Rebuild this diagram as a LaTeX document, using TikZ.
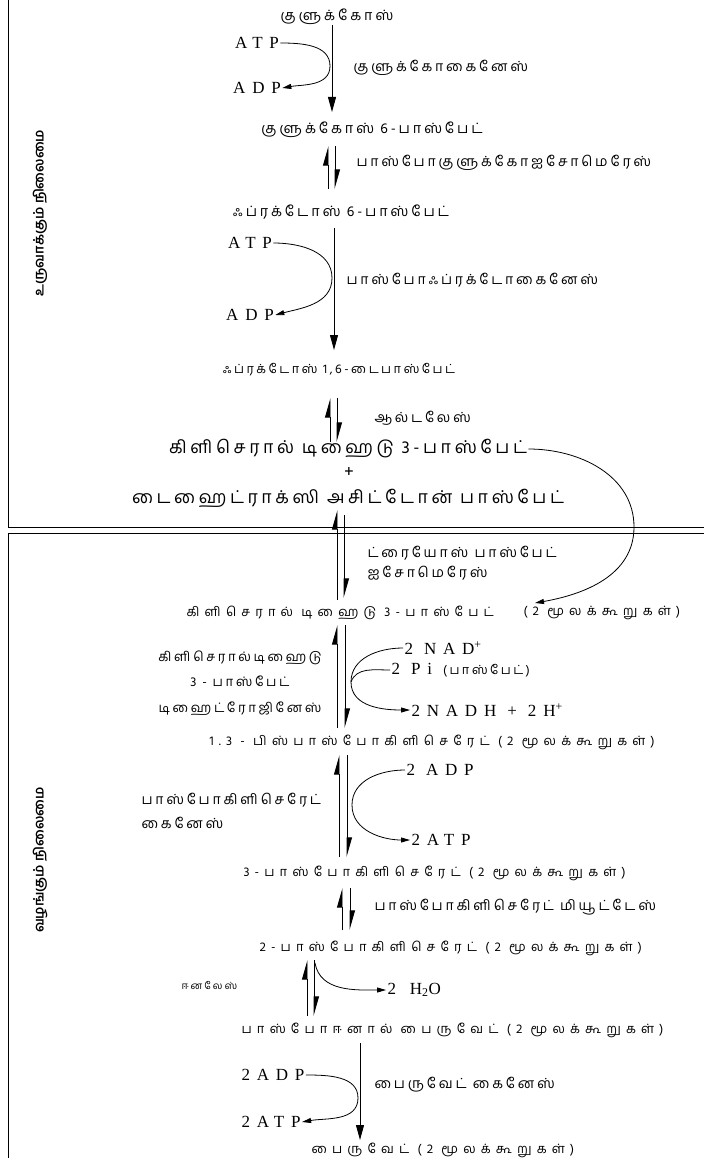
\documentclass[tikz,border=0pt]{standalone}
\usepackage{fontspec}
\setmainfont{Liberation Serif}
\newfontfamily\ta[Script=Tamil,LetterSpace=20]{Hind Madurai}
\newfontfamily\tw[Script=Tamil,LetterSpace=40]{Hind Madurai}
\newfontfamily\tab[Script=Tamil]{Hind Madurai}
\newfontfamily\lat[LetterSpace=40]{Liberation Serif}
\usetikzlibrary{arrows.meta}
\tikzset{
 every node/.style={inner sep=0pt,outer sep=1.5pt},
 cmp/.style={font=\ta\fontsize{14.3}{16}\selectfont},
 cmpl/.style={font=\ta\fontsize{17.7}{19}\selectfont},
 cmps/.style={font=\tw\fontsize{12.9}{14}\selectfont},
 enz/.style={font=\ta\fontsize{14}{16}\selectfont},
 lbl/.style={font=\ta\fontsize{13.1}{25.5}\selectfont,align=center},
 lt/.style={font=\lat\fontsize{17}{19}\selectfont},
 sidelbl/.style={font=\tab\bfseries\fontsize{13.5}{15}\selectfont,rotate=90},
 rxn/.style={line width=0.9pt,-{Triangle[length=15pt,width=8pt]}},
 hp/.style={line width=0.9pt,-{Triangle[harpoon,length=18pt,width=10pt]}},
 side/.style={line width=0.8pt,-{Triangle[length=9pt,width=5pt]}},
 frame/.style={line width=0.8pt}
}
\begin{document}
\begin{tikzpicture}[x=1pt,y=-1pt]
\useasboundingbox (0,0) rectangle (704,1158);
% frames
\draw[frame] (8,0) -- (8,527) -- (704,527);
\draw[frame] (704,533) -- (8,533) -- (8,1158);
\node[sidelbl] (s1) at (40,213) {உருவாக்கும் நிலைமை};
\node[sidelbl] (s2) at (40,860) {வழங்கும் நிலைமை};
% step 1
\node[cmp] (glc) at (337,17) {குளுக்கோஸ்};
\node[lt] (atp1) at (257,43) {ATP};
\node[lt] (adp1) at (257,88) {ADP};
\node[enz,anchor=west] (hk) at (352,68) {குளுக்கோகைனேஸ்};
\node[cmp] (g6p) at (372,130) {குளுக்கோஸ் 6-பாஸ்பேட்};
\coordinate (a1s) at (332,25); \coordinate (a1e) at (332,112);
\draw[rxn] (a1s) -- (a1e);
\coordinate (t1) at (330,66);
\draw[side] (atp1.east) to[out=0,in=90] (t1) to[out=-90,in=10] (adp1.east);
% step 2
\node[enz,anchor=west] (pgi) at (355,163) {பாஸ்போகுளுக்கோஐசோமெரேஸ்};
\node[cmp] (f6p) at (341,212) {ஃப்ரக்டோஸ் 6-பாஸ்பேட்};
\coordinate (e1a) at (328,189); \coordinate (e1b) at (328,146);
\coordinate (e1c) at (335,146); \coordinate (e1d) at (335,189);
\draw[hp] (e1a) -- (e1b); \draw[hp] (e1c) -- (e1d);
% step 3
\node[lt] (atp2) at (250,243) {ATP};
\node[lt] (adp2) at (250,315) {ADP};
\node[enz,anchor=west] (pfk) at (345,280) {பாஸ்போஃப்ரக்டோகைனேஸ்};
\node[font=\ta\fontsize{12.6}{14}\selectfont] (f16) at (339,370) {ஃப்ரக்டோஸ் 1,6-டைபாஸ்பேட்};
\coordinate (a2s) at (334,228); \coordinate (a2e) at (334,350);
\draw[rxn] (a2s) -- (a2e);
\coordinate (t2) at (332,278);
\draw[side] (atp2.east) to[out=0,in=90] (t2) to[out=-90,in=15] (adp2.east);
% step 4
\node[enz,anchor=west] (ald) at (373,418) {ஆல்டலேஸ்};
\coordinate (e2a) at (330,442); \coordinate (e2b) at (330,398);
\coordinate (e2c) at (337,398); \coordinate (e2d) at (337,442);
\draw[hp] (e2a) -- (e2b); \draw[hp] (e2c) -- (e2d);
\node[cmpl] (gapT) at (348,449) {கிளிசெரால் டிஹைடு 3-பாஸ்பேட்};
\node[cmpl] (plus) at (349,472) {+};
\node[cmpl] (dhap) at (348,498) {டைஹைட்ராக்ஸி அசிட்டோன் பாஸ்பேட்};
% step 5
\node[enz,anchor=west] (tpi1) at (366,553) {ட்ரையோஸ் பாஸ்பேட்};
\node[enz,anchor=west] (tpi2) at (366,573) {ஐசோமெரேஸ்};
\coordinate (e3a) at (337,600); \coordinate (e3b) at (337,510);
\coordinate (e3c) at (344,515); \coordinate (e3d) at (344,598);
\draw[hp] (e3a) -- (e3b); \draw[hp] (e3c) -- (e3d);
\node[cmps,anchor=west] (gap2) at (185,613) {கிளிசெரால் டிஹைடு 3-பாஸ்பேட்};
\node[cmps,anchor=west] (gap2m) at (522,613) {(2 மூலக்கூறுகள்)};
\coordinate (t3) at (634,527); \coordinate (c3e) at (535,603);
\draw[side] (gapT.east) to[out=0,in=90] (t3) to[out=-90,in=10] (c3e);
% step 6
\node[lbl] (gapdh) at (240,683) {கிளிசெரால்டிஹைடு\\3 - பாஸ்பேட்\\டிஹைட்ரோஜினேஸ்};
\coordinate (e4a) at (337,728); \coordinate (e4b) at (337,625);
\coordinate (e4c) at (345,625); \coordinate (e4d) at (345,728);
\draw[hp] (e4a) -- (e4b); \draw[hp] (e4c) -- (e4d);
\node[lt,anchor=west] (nad) at (403,648) {2 NAD\textsuperscript{+}};
\node[lt,anchor=west] (pi) at (390,670) {2 Pi {\ta\fontsize{12.6}{14}\selectfont(பாஸ்பேட்)}};
\node[lt,anchor=west] (nadh) at (410,710) {2NADH + 2H\textsuperscript{+}};
\coordinate (t4) at (351,682);
\draw[side] (nad.west) to[out=180,in=90] (t4) to[out=-90,in=180] (nadh.west);
\draw[line width=0.8pt] (pi.west) to[out=180,in=70] (t4);
\node[cmps,anchor=west] (bpg) at (208,742) {1.3 - பிஸ்பாஸ்போகிளிசெரேட் (2 மூலக்கூறுகள்)};
% step 7
\node[enz,anchor=west] (pgk1) at (140,800) {பாஸ்போகிளிசெரேட்};
\node[enz,anchor=west] (pgk2) at (140,823) {கைனேஸ்};
\coordinate (e5a) at (339,857); \coordinate (e5b) at (339,755);
\coordinate (e5c) at (347,755); \coordinate (e5d) at (347,857);
\draw[hp] (e5a) -- (e5b); \draw[hp] (e5c) -- (e5d);
\node[lt,anchor=west] (adp3) at (405,770) {2 ADP};
\node[lt,anchor=west] (atp3) at (410,840) {2ATP};
\coordinate (t5) at (352,805);
\draw[side] (adp3.west) to[out=180,in=90] (t5) to[out=-90,in=180] (atp3.west);
\node[cmps,anchor=west] (pg3) at (242,873) {3-பாஸ்போகிளிசெரேட் (2 மூலக்கூறுகள்)};
% step 8
\coordinate (e6a) at (342,930); \coordinate (e6b) at (342,888);
\coordinate (e6c) at (350,888); \coordinate (e6d) at (350,930);
\draw[hp] (e6a) -- (e6b); \draw[hp] (e6c) -- (e6d);
\node[enz,anchor=west] (pgm) at (373,907) {பாஸ்போகிளிசெரேட் மியூட்டேஸ்};
\node[cmps,anchor=west] (pg2) at (258,948) {2-பாஸ்போகிளிசெரேட் (2 மூலக்கூறுகள்)};
% step 9
\coordinate (e7a) at (307,1016); \coordinate (e7b) at (307,960);
\coordinate (e7c) at (314,960); \coordinate (e7d) at (314,1016);
\draw[hp] (e7a) -- (e7b); \draw[hp] (e7c) -- (e7d);
\node[font=\ta\fontsize{10}{12}\selectfont,anchor=west] (eno) at (180,985) {ஈனலேஸ்};
\node[lt,anchor=west] (h2o) at (386,990) {2 \,H\textsubscript{2}O};
\coordinate (t6) at (315,963);
\draw[side] (t6) to[out=-80,in=180] (h2o.west);
\node[cmps,anchor=west] (pep) at (240,1030) {பாஸ்போஈனால் பைருவேட் (2 மூலக்கூறுகள்)};
% step 10
\coordinate (a3s) at (360,1043); \coordinate (a3e) at (360,1140);
\draw[rxn] (a3s) -- (a3e);
\node[lt,anchor=west] (adp4) at (240,1075) {2ADP};
\node[lt,anchor=west] (atp4) at (240,1122) {2ATP};
\node[enz,anchor=west] (pk) at (373,1085) {பைருவேட் கைனேஸ்};
\coordinate (t7) at (358,1098);
\draw[side] (adp4.east) to[out=0,in=90] (t7) to[out=-90,in=10] (atp4.east);
\node[cmps,anchor=west] (pyr) at (310,1150) {பைருவேட் (2 மூலக்கூறுகள்)};
\end{tikzpicture}
\end{document}
